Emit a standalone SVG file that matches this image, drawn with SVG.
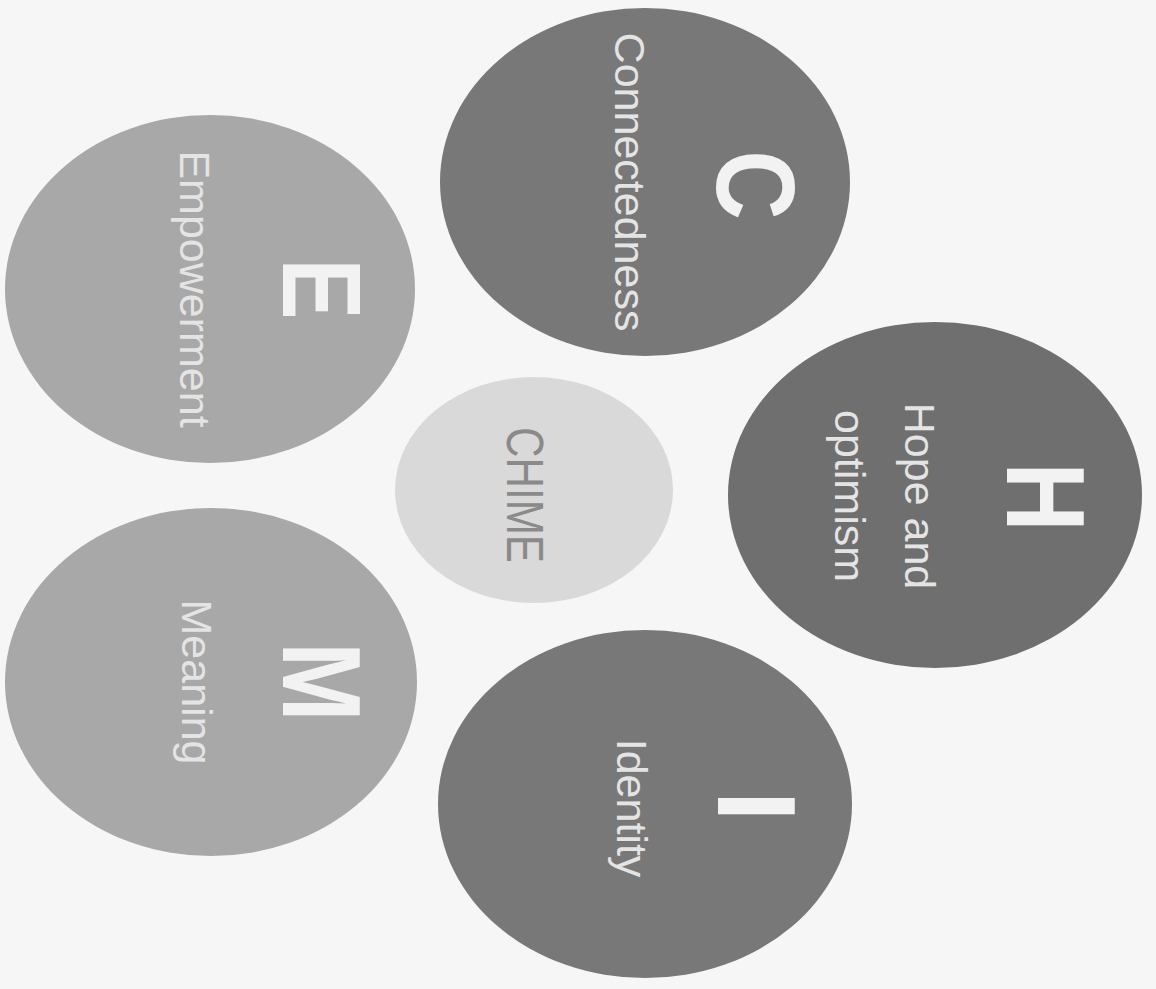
<svg xmlns="http://www.w3.org/2000/svg" width="1156" height="989" viewBox="0 0 1156 989">
<style>
.lbl{font-family:"Liberation Sans",Arial,sans-serif;fill:#ececec;text-anchor:middle}
.big{font-size:112px;font-weight:bold;fill:#f2f2f2}
.sm{font-size:43px;fill:#e4e4e4}
.dark{fill:#787878}
.darker{fill:#6f6f6f}
.light{fill:#a8a8a8}
.core{fill:#d9d9d9}
</style>
<rect width="1156" height="989" fill="#f6f6f6"/>
<g id="connectors"/>
<g id="node-C">
<ellipse class="dark" cx="645" cy="182" rx="205" ry="174"/>
<text class="lbl big" transform="translate(717,185) rotate(90) scale(0.86,1)">C</text>
<text class="lbl sm" transform="translate(615,182) rotate(90)">Connectedness</text>
</g>
<g id="node-E">
<ellipse class="light" cx="210" cy="289" rx="205" ry="174"/>
<text class="lbl big" transform="translate(283,289) rotate(90) scale(0.82,1)">E</text>
<text class="lbl sm" transform="translate(180,289) rotate(90)">Empowerment</text>
</g>
<g id="node-H">
<ellipse class="darker" cx="935" cy="495" rx="207" ry="173"/>
<text class="lbl big" transform="translate(1007,497) rotate(90) scale(0.86,1)">H</text>
<text class="lbl sm" transform="translate(905,496) rotate(90)">Hope and</text>
<text class="lbl sm" transform="translate(835,496) rotate(90)">optimism</text>
</g>
<g id="node-CHIME">
<ellipse class="core" cx="534" cy="490" rx="139" ry="113"/>
<text transform="translate(507,495) rotate(90)" font-family="Liberation Sans, Arial, sans-serif" font-size="52" fill="#8a8a8a" text-anchor="middle" textLength="136" lengthAdjust="spacingAndGlyphs">CHIME</text>
</g>
<g id="node-M">
<ellipse class="light" cx="211" cy="682" rx="206" ry="174"/>
<text class="lbl big" transform="translate(283,682) rotate(90) scale(0.85,1)">M</text>
<text class="lbl sm" transform="translate(182,682) rotate(90)">Meaning</text>
</g>
<g id="node-I">
<ellipse class="dark" cx="645" cy="804" rx="207" ry="174"/>
<text class="lbl big" transform="translate(718,806) rotate(90)">I</text>
<text class="lbl sm" transform="translate(617,808) rotate(90)">Identity</text>
</g>
</svg>
